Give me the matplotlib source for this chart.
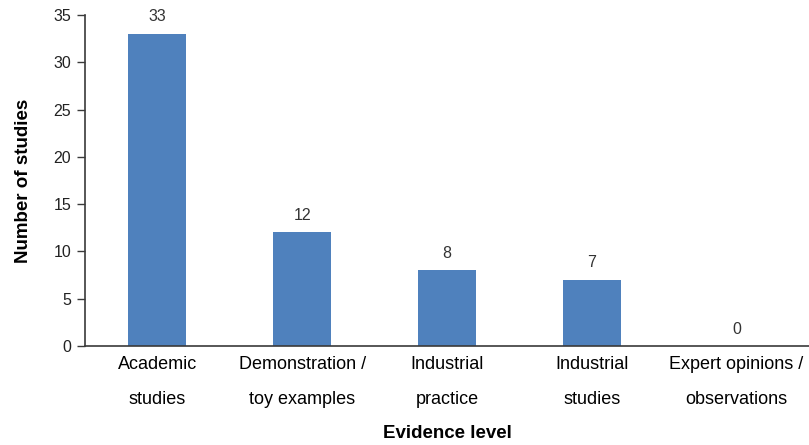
import numpy as np
import matplotlib.pyplot as plt

plt.rcParams['font.family'] = ['Liberation Sans', 'DejaVu Sans']

categories = ["Academic\nstudies", "Demonstration /\ntoy examples", "Industrial\npractice",
              "Industrial\nstudies", "Expert opinions /\nobservations"]
counts = [33, 12, 8, 7, 0]

fig = plt.figure(figsize=(8.09, 4.45), dpi=100)
ax = fig.add_axes([0.105, 0.2225, 0.895, 0.744])

x = np.arange(len(categories))
bars = ax.bar(x, counts, width=0.4, color="#4F81BD")
for xi, v in zip(x, counts):
    ax.text(xi, v + 1.0, str(v), ha="center", va="bottom", fontsize=11.5, color="#333333")

ax.set_xlim(-0.5, len(categories) - 0.5)
ax.set_ylim(0, 35)
ax.set_yticks(range(0, 36, 5))
ax.set_xticks(x)
ax.set_xticklabels(categories, fontsize=13, linespacing=2.4)
ax.tick_params(axis="x", length=0, pad=7)
ax.tick_params(axis="y", length=6, width=1, labelsize=11.5, pad=4, colors="#3a3a3a")
ax.tick_params(axis="y", labelcolor="#222222")

for s in ["top", "right"]:
    ax.spines[s].set_visible(False)
for s in ["left", "bottom"]:
    ax.spines[s].set_color("#3a3a3a")
    ax.spines[s].set_linewidth(1.2)

ax.set_ylabel("Number of studies", fontsize=13.5, fontweight="bold", labelpad=15)
ax.set_xlabel("Evidence level", fontsize=13.5, fontweight="bold", labelpad=12)

fig.savefig("out.png", dpi=100)
